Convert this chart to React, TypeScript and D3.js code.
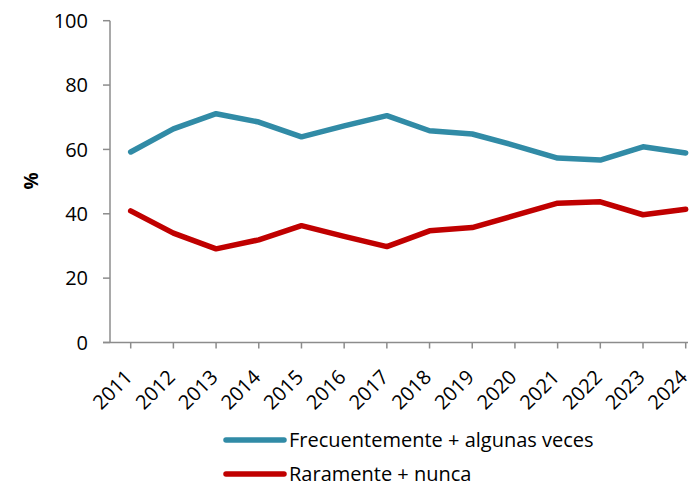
import React from 'react';
import { scaleLinear, scalePoint, line } from 'd3';

const years = ['2011', '2012', '2013', '2014', '2015', '2016', '2017', '2018', '2019', '2020', '2021', '2022', '2023', '2024'];
const frecuente = [59.2, 66.4, 71.1, 68.5, 63.9, 67.3, 70.5, 65.8, 64.8, 61.2, 57.3, 56.7, 60.8, 58.9];
const raramente = [40.9, 34.0, 29.1, 31.9, 36.3, 33.0, 29.8, 34.7, 35.7, 39.5, 43.3, 43.7, 39.7, 41.4];
const yTicks = [0, 20, 40, 60, 80, 100];

const seriesList = [
  { name: 'Frecuentemente + algunas veces', values: frecuente, color: '#318ba6' },
  { name: 'Raramente + nunca', values: raramente, color: '#c00000' },
];

const font = '"Open Sans", sans-serif';

const App = () => {
  const width = 693;
  const height = 486;
  const left = 110;
  const right = 688;

  // y scale: 0 at bottom of plot, 100 at top
  const y = scaleLinear().domain([0, 100]).range([342.5, 20.7]);
  // categories sit in the middle of each slot
  const x = scalePoint().domain(years).range([130.7, 685.7]);

  const path = line<number>()
    .x((_, i) => x(years[i]) as number)
    .y(d => y(d));

  return (
    <svg width={width} height={height} style={{ position: 'absolute', left: 0, top: 0 }}>
      {/* y axis */}
      <line x1={left} x2={left} y1={y(100)} y2={y(0)} stroke="#8c8c8c" strokeWidth={1.5} />
      {yTicks.map(t => (
        <g key={t}>
          <line x1={left - 7} x2={left} y1={y(t)} y2={y(t)} stroke="#8c8c8c" strokeWidth={1.5} />
          <text x={88} y={y(t)} dy="0.36em" textAnchor="end" fontSize={20} fontFamily={font} fill="#000">
            {t}
          </text>
        </g>
      ))}
      <text
        transform={`translate(31,${181}) rotate(-90)`}
        textAnchor="middle"
        dy="0.36em"
        fontSize={19}
        fontWeight="bold"
        fontFamily={font}
      >
        %
      </text>

      {/* x axis */}
      <line x1={left - 7} x2={right} y1={y(0)} y2={y(0)} stroke="#8c8c8c" strokeWidth={1.5} />
      {years.map(yr => {
        const px = x(yr) as number;
        return (
          <g key={yr}>
            <line x1={px} x2={px} y1={y(0)} y2={y(0) + 6} stroke="#8c8c8c" strokeWidth={1.5} />
            <text
              transform={`translate(${px + 3},${y(0) + 36}) rotate(-45)`}
              textAnchor="end"
              fontSize={20}
              fontFamily={font}
            >
              {yr}
            </text>
          </g>
        );
      })}

      {/* lines */}
      {seriesList.map(s => (
        <path
          key={s.name}
          d={path(s.values) || ''}
          fill="none"
          stroke={s.color}
          strokeWidth={5.5}
          strokeLinejoin="round"
          strokeLinecap="round"
        />
      ))}

      {/* legend */}
      {seriesList.map((s, i) => (
        <g key={s.name} transform={`translate(0,${440 + i * 34})`}>
          <line x1={226} x2={284} y1={0} y2={0} stroke={s.color} strokeWidth={5.5} strokeLinecap="round" />
          <text x={289} y={0} dy="0.36em" fontSize={20} fontFamily={font}>
            {s.name}
          </text>
        </g>
      ))}
    </svg>
  );
};

export default App;
